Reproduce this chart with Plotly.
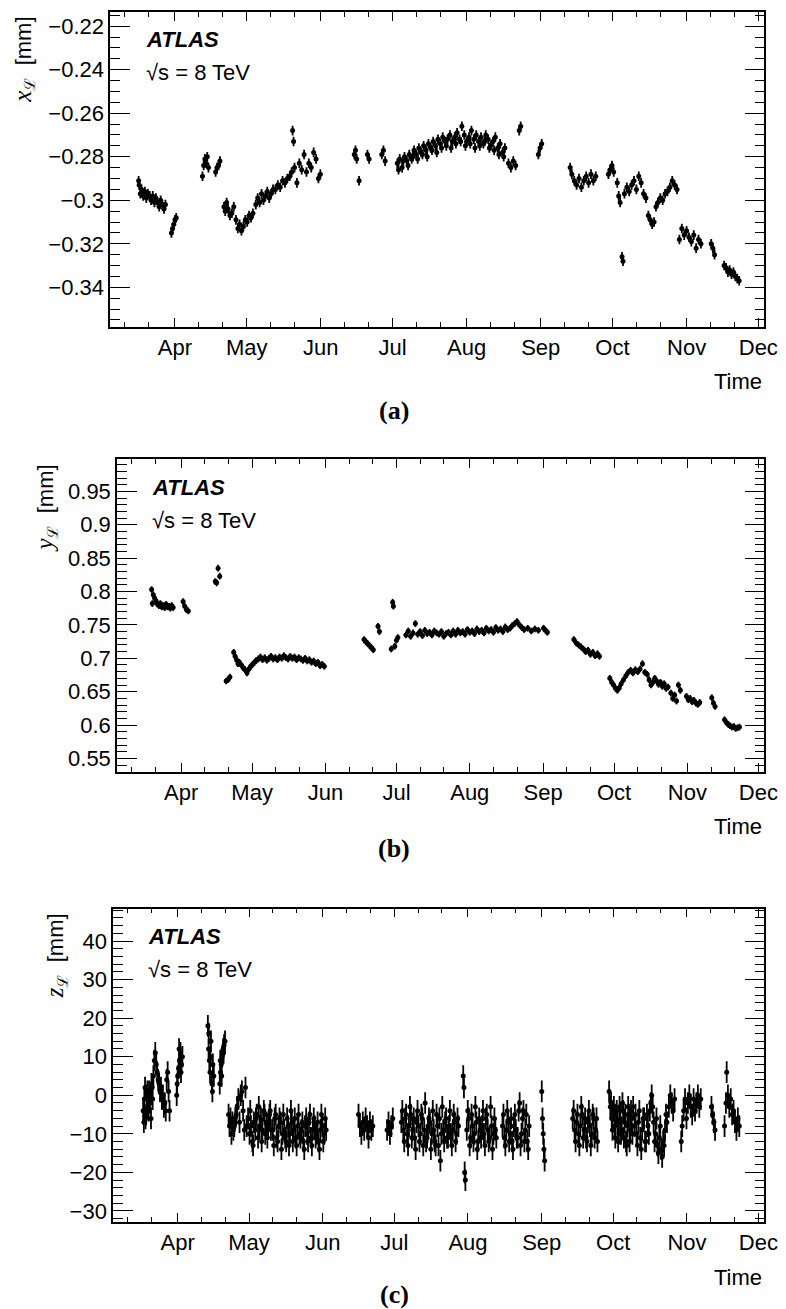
import pandas as pd
import plotly.graph_objects as go

BASE = pd.Timestamp("2012-04-01")
FONT = "Liberation Sans, Arial, Helvetica, sans-serif"
SERIF = "Liberation Serif, Times New Roman, serif"

# x-axis: months
month_ticks = ["2012-04-01", "2012-05-01", "2012-06-01", "2012-07-01", "2012-08-01",
               "2012-09-01", "2012-10-01", "2012-11-01", "2012-12-01"]
month_labels = ["Apr", "May", "Jun", "Jul", "Aug", "Sep", "Oct", "Nov", "Dec"]
minor_days = ["2012-03-11", "2012-03-21", "2012-04-11", "2012-04-21", "2012-05-11", "2012-05-21",
              "2012-06-11", "2012-06-21", "2012-07-11", "2012-07-21", "2012-08-11", "2012-08-21",
              "2012-09-11", "2012-09-21", "2012-10-11", "2012-10-21", "2012-11-11", "2012-11-21"]
x_range = ["2012-03-04 21:00", "2012-12-03 12:00"]

# (a) x_L [mm]  -- days counted from 1 Apr 2012
xl_days = [-15.2, -15, -14.5, -14, -13.3, -12.6, -12, -11.3, -10.6, -10, -9.3, -8.6, -8, -7.3, -6.6, -6, -5.3, -4.6, -4,
           -1.5, -1, -0.5, 0, 0.5,
           11.5, 12, 12.5, 13, 13.5, 14, 17, 17.6, 18.2, 18.8,
           20.5, 21, 21.6, 22.2, 23, 23.8, 24.6,
           25.5, 26.3, 27, 27.8, 28.6, 29.4, 30.2, 31, 31.8, 32.6,
           33.8, 34.6, 35.4, 36.2, 37, 37.8, 38.6, 39.4, 40.2, 41,
           42, 43, 44, 45, 46, 47, 48, 48.8, 49.2, 49.6, 50,
           51, 52, 53, 54, 55, 56, 57, 58, 59, 60, 60.8,
           75, 75.5, 76, 77, 80.5, 81.2, 86.5, 87.2, 87.9,
           93, 94, 95, 96, 97, 98, 99, 100, 101, 102, 103, 104, 105, 106, 107, 108, 109, 110, 111, 112,
           113, 114, 115, 116, 117, 118, 119, 120, 121, 122, 123, 124, 125, 126, 127, 128, 129, 130, 131,
           132, 133, 134, 135, 136, 137, 138, 139.5, 140.5, 141.5, 142.5, 144, 144.6,
           152, 152.7, 153.4,
           165.3, 166, 167, 168, 169, 170, 171, 172, 173, 174, 175, 176,
           181.3, 182, 182.8, 183.5, 185, 185.6, 186.2, 187, 187.4,
           188, 189, 190, 191, 192, 193, 194, 195, 196, 197,
           198, 198.8, 199.6, 200.4,
           201.2, 202, 203, 204, 205, 206, 207, 208, 209, 210,
           211, 212, 213, 214, 215, 216, 217, 218, 219, 220,
           224.3, 225, 225.7,
           229.7, 230.5, 231.3, 232, 232.8, 233.6, 234.4, 235.2, 236,
           # lower edge of the Jul-Aug band
           93.5, 95.5, 97.5, 99.5, 101.5, 103.5, 105.5, 107.5, 109.5, 111.5, 113.5, 115.5, 117.5, 119.5,
           121.5, 123.5, 125.5, 127.5, 129.5, 131.5, 133.5, 135.5, 137.5]
xl_vals = [-0.291, -0.293, -0.297, -0.295, -0.298, -0.296, -0.299, -0.297, -0.298, -0.300, -0.298, -0.301, -0.299,
           -0.301, -0.303, -0.300, -0.302, -0.304, -0.302,
           -0.315, -0.313, -0.311, -0.309, -0.308,
           -0.289, -0.284, -0.281, -0.283, -0.280, -0.285, -0.287, -0.285, -0.284, -0.282,
           -0.303, -0.305, -0.301, -0.304, -0.307, -0.306, -0.303,
           -0.309, -0.313, -0.311, -0.314, -0.312, -0.309, -0.310, -0.307, -0.308, -0.306,
           -0.302, -0.299, -0.301, -0.297, -0.300, -0.298, -0.296, -0.299, -0.297, -0.295,
           -0.295, -0.293, -0.294, -0.291, -0.292, -0.290, -0.289, -0.287, -0.268, -0.273, -0.285,
           -0.292, -0.283, -0.286, -0.279, -0.287, -0.283, -0.285, -0.278, -0.281, -0.290, -0.288,
           -0.279, -0.277, -0.281, -0.291, -0.279, -0.281, -0.279, -0.277, -0.282,
           -0.283, -0.281, -0.285, -0.280, -0.282, -0.279, -0.281, -0.277, -0.279, -0.276, -0.278, -0.275, -0.277,
           -0.274, -0.276, -0.273, -0.275, -0.272, -0.274, -0.271,
           -0.273, -0.272, -0.270, -0.273, -0.271, -0.269, -0.272, -0.266, -0.270, -0.273, -0.271, -0.268, -0.272,
           -0.270, -0.273, -0.271, -0.274, -0.270, -0.272,
           -0.275, -0.273, -0.271, -0.276, -0.274, -0.278, -0.276, -0.283, -0.285, -0.282, -0.284, -0.268, -0.266,
           -0.279, -0.276, -0.274,
           -0.285, -0.288, -0.291, -0.293, -0.290, -0.294, -0.291, -0.289, -0.292, -0.288, -0.291, -0.289,
           -0.288, -0.286, -0.284, -0.287, -0.292, -0.298, -0.301, -0.326, -0.328,
           -0.297, -0.294, -0.296, -0.293, -0.291, -0.295, -0.289, -0.292, -0.297, -0.299,
           -0.307, -0.309, -0.311, -0.310,
           -0.303, -0.301, -0.299, -0.300, -0.297, -0.296, -0.294, -0.291, -0.293, -0.295,
           -0.318, -0.313, -0.316, -0.314, -0.317, -0.319, -0.316, -0.322, -0.318, -0.320,
           -0.320, -0.322, -0.325,
           -0.330, -0.331, -0.333, -0.332, -0.334, -0.333, -0.335, -0.336, -0.337,
           -0.286, -0.282, -0.284, -0.280, -0.281, -0.279, -0.280, -0.277, -0.278, -0.276, -0.275, -0.276,
           -0.274, -0.273, -0.275, -0.274, -0.276, -0.275, -0.273, -0.276, -0.277, -0.279, -0.280]
xl_err = 0.0022

# (b) y_L [mm]
yl_days = [-12.5, -12.2, -11.8, -11.2, -10.6, -10, -9.4, -8.8, -8.2, -7.6, -7, -6.4, -5.8, -5.2, -4.6, -4, -3.4,
           0.8, 1.5, 2.2, 3,
           14.4, 15, 15.6, 16.3,
           19, 19.8, 20.6,
           22.2, 22.8, 23.4, 24, 24.6,
           25.4, 26.2, 27, 27.8, 28.6, 29.4, 30.2, 31, 31.8,
           32.6, 33.5, 34.4, 35.3, 36.2, 37.1, 38, 38.9, 39.8, 40.7, 41.6, 42.5, 43.4, 44.3, 45.2, 46.1,
           47, 47.9, 48.8, 49.7, 50.6, 51.5, 52.4, 53.3, 54.2, 55.1, 56, 56.9, 57.8, 58.7, 59.6, 60.5,
           77.3, 78, 78.8, 79.6, 80.4, 81.2,
           83.2, 83.8, 88.8, 89.4, 89.7, 90.3, 91, 91.6,
           95, 96, 97, 98, 99, 100, 101, 102, 103, 104, 105, 106, 107, 108, 109, 110, 111, 112, 113, 114,
           115, 116, 117, 118, 119, 120, 121, 122, 123, 124, 125, 126, 127, 128, 129, 130, 131, 132, 133,
           134, 135, 136, 137, 138, 139, 140, 141, 142, 143, 144, 145, 146.5, 148, 149.5, 151,
           153.2, 154, 154.8,
           166, 167, 168, 169, 170, 171, 172, 173, 174, 175, 176, 176.8,
           181.2, 182, 182.8, 183.6, 184.4, 185.2, 186,
           187, 188, 189, 190, 191, 192, 193, 194, 195, 196, 197,
           197.8, 198.6, 199.4, 200.2, 201, 201.8, 202.6, 203.4, 204.2, 205, 205.8,
           207, 207.8, 208.6, 209.4, 210.2, 211,
           213.6, 214.4, 215.2, 216, 216.8, 217.6, 218.4, 219.2,
           224.3, 225, 225.7,
           229.7, 230.5, 231.3, 232, 232.8, 233.6, 234.4, 235.2, 236]
yl_vals = [0.803, 0.782, 0.795, 0.790, 0.786, 0.781, 0.779, 0.782, 0.777, 0.779, 0.776, 0.781, 0.777, 0.778,
           0.775, 0.779, 0.776,
           0.785, 0.778, 0.773, 0.771,
           0.815, 0.813, 0.835, 0.823,
           0.666, 0.668, 0.672,
           0.709, 0.703, 0.698, 0.692, 0.694,
           0.690, 0.686, 0.683, 0.678, 0.684, 0.688, 0.691, 0.694, 0.697,
           0.699, 0.702, 0.698, 0.701, 0.697, 0.700, 0.703, 0.699, 0.701, 0.698, 0.702, 0.700, 0.704, 0.701,
           0.699, 0.703, 0.700, 0.702, 0.698, 0.701, 0.699, 0.697, 0.700, 0.696, 0.698, 0.694, 0.696, 0.692,
           0.694, 0.689, 0.691, 0.688,
           0.728, 0.725, 0.722, 0.719, 0.716, 0.713,
           0.748, 0.740, 0.714, 0.784, 0.778, 0.718, 0.727, 0.731,
           0.735, 0.741, 0.733, 0.738, 0.752, 0.736, 0.740, 0.734, 0.742, 0.737, 0.739, 0.735, 0.741, 0.738,
           0.736, 0.740, 0.733, 0.737, 0.739, 0.735, 0.741, 0.736, 0.742, 0.738, 0.740, 0.736, 0.743, 0.739,
           0.741, 0.737, 0.744, 0.740, 0.742, 0.738, 0.745, 0.741, 0.743, 0.739, 0.746, 0.742, 0.744, 0.740,
           0.747, 0.743, 0.745, 0.749, 0.752, 0.755, 0.750, 0.746, 0.743, 0.745, 0.741, 0.744, 0.742,
           0.745, 0.742, 0.739,
           0.728, 0.723, 0.720, 0.717, 0.714, 0.710, 0.712, 0.706, 0.709, 0.704, 0.707, 0.703,
           0.670, 0.664, 0.660, 0.655, 0.652, 0.656, 0.662,
           0.668, 0.674, 0.679, 0.682, 0.678, 0.683, 0.680, 0.684, 0.692, 0.679, 0.676,
           0.668, 0.660, 0.664, 0.670, 0.666, 0.661, 0.664, 0.658, 0.662, 0.655, 0.657,
           0.648, 0.640, 0.645, 0.636, 0.660, 0.652,
           0.643, 0.638, 0.640, 0.635, 0.637, 0.633, 0.631, 0.634,
           0.641, 0.633, 0.628,
           0.608, 0.604, 0.601, 0.599, 0.597, 0.598, 0.595, 0.596, 0.597]
yl_err = 0.005

# (c) z_L [mm]
zl_days = [-14.5, -14, -13.5, -13, -12.5, -12, -11.5, -11, -10.5,
           -10.2, -9.8, -9.4, -9,
           -8.6, -8.2, -7.8, -7.4, -7, -6.6, -6.2, -5.8, -5.4, -5, -4.6, -4.2, -3.8, -3.4,
           -0.4, 0, 0.4, 0.8, 1.2, 1.6, 2,
           12.7, 13, 13.3, 13.6, 14, 14.4, 14.8, 15.2,
           17.7, 18, 18.3, 18.7, 19.1, 19.5, 19.9,
           21.4, 21.8, 22.2, 22.6, 23, 23.4, 23.8, 24.2, 24.6, 25, 25.5, 26, 26.5, 27, 27.5, 28, 28.5, 29,
           29.6, 30.2, 30.8, 31.4, 32, 32.6, 33.2, 33.8, 34.4, 35, 35.6, 36.2, 36.8, 37.4, 38, 38.6, 39.2,
           40, 40.8, 41.6, 42.4, 43.2, 44, 44.8, 45.6, 46.4, 47.2, 48, 48.8, 49.6, 50.4, 51.2, 52, 52.8,
           53.6, 54.4, 55.2, 56, 56.8, 57.6, 58.4, 59.2, 60, 60.8, 61.6, 62.4,
           76, 76.6, 77.2, 77.8, 78.4, 79, 79.6, 80.2, 80.8, 81.4, 82,
           88, 88.6, 89.2, 89.8, 90.4,
           94, 94.8, 95.6, 96.4, 97.2, 98, 98.8, 99.6, 100.4, 101.2, 102, 102.8, 103.6, 104.4, 105.2, 106,
           106.8, 107.6, 108.4, 109.2, 110, 110.4, 110.8, 111.6, 112.4, 113.2, 114, 114.8, 115.6, 116.4,
           117.2, 118,
           120, 120.3, 120.6, 120.9,
           121.5, 122.3, 123.1, 123.9, 124.7, 125.5, 126.3, 127.1, 127.9, 128.7, 129.5, 130.3, 131.1,
           131.9, 132.7, 133.5,
           136.5, 137.3, 138.1, 138.9, 139.7, 140.5, 141.3, 142.1, 142.9, 143.7, 144.5, 145.3, 146.1,
           146.9, 147.7,
           153, 153.3, 153.6, 153.9, 154.2,
           166, 166.8, 167.6, 168.4, 169.2, 170, 170.8, 171.6, 172.4, 173.2, 174, 174.8, 175.6, 176.4,
           181.3, 181.8, 182.4, 183, 183.6, 184.2, 184.8, 185.4, 186, 186.6, 187.2, 187.8, 188.4, 189,
           189.6, 190.2, 190.8, 191.4,
           192, 192.8, 193.6, 194.4, 195.2, 196, 196.8, 197.6, 198.4, 199.2, 200, 200.8, 201.6, 202.4,
           203.2, 204, 204.8, 205.6,
           206.4, 207, 207.6, 208.2, 208.8,
           211.6, 212, 212.6, 213.2, 213.8, 214.4, 215, 215.6, 216.2, 216.8, 217.4, 218, 218.6, 219.2, 219.8,
           224.3, 224.8, 225.3, 225.8,
           229.8, 230.4, 230.7, 231.2, 231.8, 232.4, 233, 233.6, 234.2, 234.8, 235.4, 236,
           # upper / lower edges of the dense blocks
           -14.2, -13.7, -13.2, -12.7, -12.2, -11.7, -11.2, -10.7,
           -0.2, 0.6, 1.4, 13.1, 13.8, 14.6, 17.9, 18.5, 19.3,
           30.5, 31.7, 32.9, 34.1, 35.3, 36.5, 37.7, 38.9, 40.4, 41.2, 42, 42.8, 43.6, 44.4, 45.2, 46,
           46.8, 47.6, 48.4, 49.2, 50, 50.8, 51.6, 52.4, 53.2, 54, 54.8, 55.6, 56.4, 57.2, 58, 58.8,
           59.6, 60.4, 61.2, 62,
           94.4, 95.2, 96, 96.8, 97.6, 98.4, 99.2, 100, 100.8, 101.6, 102.4, 103.2, 104, 104.8, 105.6,
           106.4, 107.2, 108, 108.8, 109.6, 111.2, 112, 112.8, 113.6, 114.4, 115.2, 116, 116.8, 117.6,
           121.9, 122.7, 123.5, 124.3, 125.1, 125.9, 126.7, 127.5, 128.3, 129.1, 129.9, 130.7, 131.5,
           132.3, 133.1, 133.9,
           136.9, 137.7, 138.5, 139.3, 140.1, 140.9, 141.7, 142.5, 143.3, 144.1, 144.9, 145.7, 146.5, 147.3,
           166.4, 167.2, 168, 168.8, 169.6, 170.4, 171.2, 172, 172.8, 173.6, 174.4, 175.2, 176,
           182.1, 182.7, 183.3, 183.9, 184.5, 185.1, 185.7, 186.3, 186.9, 187.5, 188.1, 188.7, 189.3,
           189.9, 190.5, 191.1,
           192.4, 193.2, 194, 194.8, 195.6, 196.4, 197.2, 198, 198.8, 199.6, 200.4, 201.2, 202, 202.8,
           203.6, 204.4, 205.2]
zl_vals = [-4, -1, -6, 0, -3, 1, -2, 3, -1,
           5, 9, 11, 8,
           6, 4, 3, 1, 2, -1, 0, -3, -2, -4, 4, 6, 1, -4,
           0, 5, 7, 9, 11, 8, 10,
           18, 12, 9, 6, 14, 3, 8, 5,
           3, 6, 8, 10, 12, 13, 14,
           -5, -8, -6, -10, -7, -9, -8, -6, -5, -3, -1, -7, 0, 1, -4, -9, 2, -8,
           -6, -10, -8, -12, -7, -9, -5, -11, -8, -6, -9, -4, -10, -7, -8, -5, -9,
           -9, -6, -11, -8, -7, -10, -9, -12, -8, -10, -7, -9, -11, -8, -10, -9, -12,
           -8, -10, -7, -11, -9, -8, -10, -12, -9, -8, -10, -9,
           -5, -8, -10, -7, -9, -6, -8, -11, -7, -9, -8,
           -9, -7, -10, -8, -6,
           -7, -9, -6, -10, -8, -5, -9, -11, -7, -8, -10, -6, -9, -12, -8, -7,
           -10, -9, -13, -8, -6, -17, -10, -9, -7, -11, -8, -10, -9, -7,
           -10, -8,
           5, 2, -20, -22,
           -9, -6, -11, -8, -10, -7, -12, -9, -8, -10, -6, -9, -11,
           -8, -10, -9,
           -8, -11, -9, -7, -10, -12, -8, -9, -11, -2, -10, -4, -9,
           -12, -8,
           1, -6, -10, -14, -17,
           -6, -9, -7, -10, -8, -5, -9, -11, -7, -8, -10, -6, -9, -12,
           1, -3, -6, -4, -8, -5, -7, -10, -6, -9, -4, -7, -12, -8,
           -5, -9, -6, -3,
           -8, -10, -7, -11, -9, -6, -12, -8, -4, 0, -7, -10, -13, -11,
           -14, -12, -9, -7,
           -3, 0, -2, -4, -1,
           -12, -8, -4, -1, -6, -2, 0, -3, -5, -1, -4, -2, 0, -3, -1,
           -3, -5, -7, -9,
           -8, -2, 6, 0, -3, -1, -5, -4, -7, -9, -6, -8,
           -7, 2, -5, 1, -4, 0, -6, 2,
           3, 12, 6, 16, 10, 1, 9, 5, 11,
           -4, -13, -6, -3, -12, -5, -11, -4, -13, -5, -12, -6, -14, -5, -11, -6,
           -13, -4, -12, -6, -13, -5, -11, -7, -14, -6, -12, -5, -13, -6, -11, -7,
           -14, -5, -12, -6,
           -4, -12, -5, -13, -3, -11, -6, -14, -4, -12, -5, -13, -2, -11, -6,
           -14, -4, -12, -5, -13, -3, -12, -6, -11, -4, -13, -5, -12, -6,
           -4, -13, -5, -12, -3, -14, -6, -11, -4, -13, -5, -12, -3,
           -14, -6, -11,
           -5, -13, -4, -12, -6, -14, -5, -11, -4, -13, -6, -12, -5, -14,
           -4, -12, -5, -13, -3, -11, -6, -12, -4, -13, -5, -11, -6,
           -2, -9, -3, -11, -4, -12, -3, -10, -2, -11, -5, -13, -3,
           -12, -4, -10,
           -5, -13, -4, -14, -6, -12, -5, -10, -2, -3, -12, -6, -15, -8,
           -16, -13, -5]
zl_err = 2.8

# y-axis ticks
a_ticks = [-0.34, -0.32, -0.30, -0.28, -0.26, -0.24, -0.22]
a_labels = ["\u22120.34", "\u22120.32", "\u22120.3", "\u22120.28", "\u22120.26", "\u22120.24", "\u22120.22"]
b_ticks = [0.55, 0.60, 0.65, 0.70, 0.75, 0.80, 0.85, 0.90, 0.95]
b_labels = ["0.55", "0.6", "0.65", "0.7", "0.75", "0.8", "0.85", "0.9", "0.95"]
c_ticks = [-30, -20, -10, 0, 10, 20, 30, 40]
c_labels = ["\u221230", "\u221220", "\u221210", "0", "10", "20", "30", "40"]

W, H = 786, 1309
XR_PX = 770

panels = [
    dict(left=104, top=4, bottom=319, yr=[-0.358, -0.2135], tv=a_ticks, tt=a_labels, mstep=0.005,
         days=xl_days, vals=xl_vals, err=xl_err, var="x", tag="(a)", tx=17, tag_off=84, msize=5),
    dict(left=111, top=452, bottom=765, yr=[0.53, 0.998], tv=b_ticks, tt=b_labels, mstep=0.01,
         days=yl_days, vals=yl_vals, err=yl_err, var="y", tag="(b)", tx=39, tag_off=77, msize=5),
    dict(left=107, top=902, bottom=1216, yr=[-32.9, 48.4], tv=c_ticks, tt=c_labels, mstep=2,
         days=zl_days, vals=zl_vals, err=zl_err, var="z", tag="(c)", tx=49, tag_off=72, msize=5),
]

fig = go.Figure()
annotations = []
layout = dict(width=W, height=H, margin=dict(l=0, r=0, t=0, b=0),
              plot_bgcolor="white", paper_bgcolor="white", showlegend=False)


def px(x):
    return x / W


def py(y):
    return 1 - y / H


for i, p in enumerate(panels, start=1):
    sfx = "" if i == 1 else str(i)
    dates = BASE + pd.to_timedelta(p["days"], unit="D")
    fig.add_trace(go.Scatter(
        x=dates, y=p["vals"], mode="markers", xaxis="x" + sfx, yaxis="y" + sfx,
        marker=dict(color="black", size=p["msize"]),
        error_y=dict(type="constant", value=p["err"], color="black", thickness=1.8, width=0)))

    layout["xaxis" + sfx] = dict(
        type="date", range=x_range, domain=[px(p["left"]), px(XR_PX)], anchor="y" + sfx,
        tickmode="array", tickvals=month_ticks, ticktext=month_labels,
        ticks="inside", ticklen=9, tickwidth=1.2, tickcolor="black",
        showline=True, linecolor="black", linewidth=1.5, mirror="allticks",
        showgrid=False, zeroline=False,
        tickfont=dict(family=FONT, size=22, color="black"),
        minor=dict(tickmode="array", tickvals=minor_days, ticks="inside", ticklen=5,
                   tickwidth=1.2, tickcolor="black", showgrid=False))
    layout["yaxis" + sfx] = dict(
        range=p["yr"], domain=[py(p["bottom"]), py(p["top"])], anchor="x" + sfx,
        tickmode="array", tickvals=p["tv"], ticktext=p["tt"],
        ticks="inside", ticklen=20, tickwidth=1.2, tickcolor="black",
        showline=True, linecolor="black", linewidth=1.5, mirror="allticks",
        showgrid=False, zeroline=False,
        tickfont=dict(family=FONT, size=22, color="black"),
        minor=dict(dtick=p["mstep"], tick0=0, ticks="inside", ticklen=10,
                   tickwidth=1.2, tickcolor="black", showgrid=False))

    off = p["left"] - 104
    annotations += [
        dict(text="<b><i>ATLAS</i></b>", x=px(138 + off), y=py(p["top"] + 28),
             xanchor="left", yanchor="middle", font=dict(family=FONT, size=22, color="black")),
        dict(text="\u221as = 8 TeV", x=px(138 + off), y=py(p["top"] + 61),
             xanchor="left", yanchor="middle", font=dict(family=FONT, size=22, color="black")),
        dict(text=("<span style='font-family:Liberation Serif;font-size:25px'><i>%s</i></span>"
                   "<sub><span style='font-family:DejaVu Serif'>\u2112</span></sub>  [mm]") % p["var"],
             x=px(p["tx"]), y=py(p["top"] + 3), textangle=-90,
             xanchor="center", yanchor="top", font=dict(family=FONT, size=22, color="black")),
        dict(text="Time", x=px(XR_PX), y=py(p["bottom"] + 55), xanchor="right", yanchor="middle",
             font=dict(family=FONT, size=22, color="black")),
        dict(text="<b>%s</b>" % p["tag"], x=0.5, y=py(p["bottom"] + p["tag_off"]), xanchor="center",
             yanchor="middle", font=dict(family=SERIF, size=26, color="black")),
    ]

for a in annotations:
    a.update(xref="paper", yref="paper", showarrow=False)
layout["annotations"] = annotations
fig.update_layout(**layout)
fig.write_html("out.html")
